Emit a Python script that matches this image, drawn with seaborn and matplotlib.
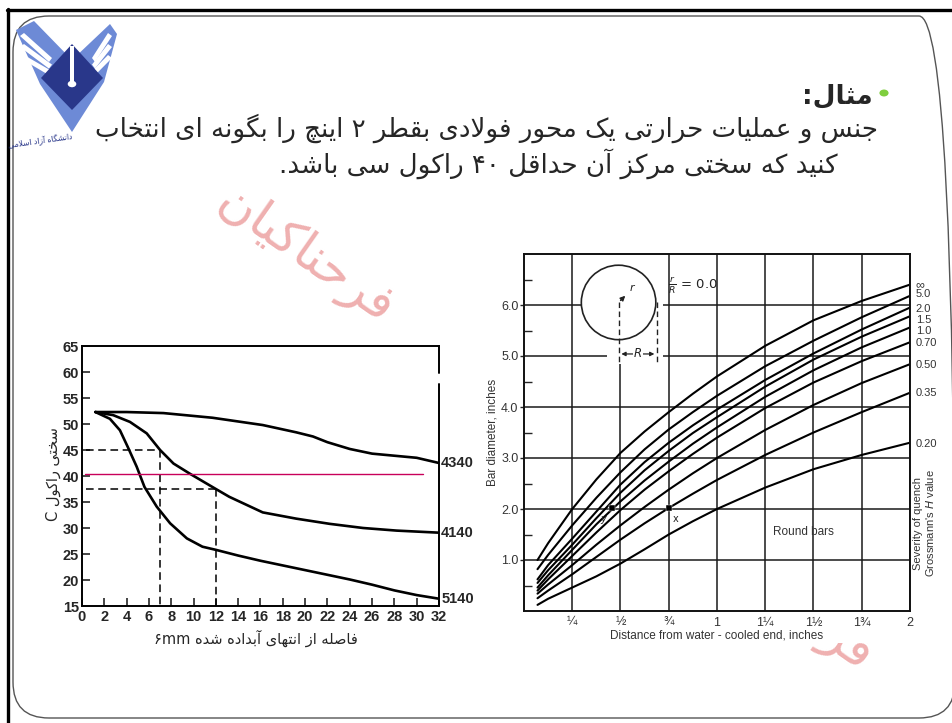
import re
import numpy as np
import pandas as pd
import matplotlib
matplotlib.use("Agg")
import matplotlib.pyplot as plt
import seaborn as sns
from matplotlib.patches import FancyBboxPatch, Ellipse, Rectangle, Polygon, Circle
from matplotlib.lines import Line2D
from matplotlib.transforms import IdentityTransform

# ---------------- slide text (Persian) ----------------
title_text = "مثال:"
body_line1 = "جنس و عملیات حرارتی یک محور فولادی بقطر ۲ اینچ را بگونه ای انتخاب"
body_line2 = "کنید که سختی مرکز آن حداقل ۴۰ راکول سی باشد."
watermark_text = "فرحناکیان"
logo_caption = "دانشگاه آزاد اسلامی"
jominy_ylabel = "سختی راکول C"
jominy_xlabel = "فاصله از انتهای آبداده شده"
jominy_xunit = "۶mm"

# ---------------- Jominy end-quench curves ----------------
steel_4340_x = [1.2, 4, 7.3, 11.7, 16.2, 19.2, 20.7, 22, 24, 26, 28, 30, 32]
steel_4340_y = [52.3, 52.3, 52.1, 51.2, 49.8, 48.4, 47.6, 46.5, 45.2, 44.3, 43.9, 43.5, 42.5]
steel_4140_x = [1.2, 2.8, 4.3, 5.8, 7, 8.2, 9.7, 12, 13.2, 16.2, 19.2, 22.2, 25.2, 28.2, 32]
steel_4140_y = [52.3, 51.7, 50.4, 48.2, 45, 42.4, 40.4, 37.5, 36.0, 33.0, 31.8, 30.8, 30.0, 29.5, 29.1]
steel_5140_x = [1.2, 2.5, 3.4, 4.1, 4.9, 5.6, 6.7, 7.9, 9.4, 10.8, 12, 14, 16, 18, 20, 22, 24, 26, 28, 30, 32]
steel_5140_y = [52.3, 51.0, 48.8, 45.6, 41.8, 37.9, 34.1, 30.9, 28.0, 26.4, 25.8, 24.7, 23.7, 22.8, 21.9,
                21.0, 20.1, 19.1, 18.0, 17.1, 16.4]
steel_names = ["4340", "4140", "5140"]
readout_dist = [7, 12]
readout_hrc = [45, 37.5]        # hardness at those distances
required_hrc = 40.4             # required centre hardness line

# ---------------- Grossmann chart: bar diameter vs Jominy distance ----------------
dist_in = [0.07, 0.125, 0.25, 0.375, 0.5, 0.625, 0.75, 0.875, 1.0, 1.25, 1.5, 1.75, 2.0]
h_labels = ["∞", "5.0", "2.0", "1.5", "1.0", "0.70", "0.50", "0.35", "0.20"]
h_label_y = [6.39, 6.21, 5.93, 5.7, 5.49, 5.25, 4.82, 4.27, 3.27]
dia_inf = [1.0, 1.33, 2.0, 2.58, 3.1, 3.52, 3.9, 4.26, 4.6, 5.2, 5.7, 6.08, 6.4]
dia_5_0 = [0.82, 1.1, 1.68, 2.22, 2.72, 3.17, 3.56, 3.9, 4.22, 4.8, 5.3, 5.76, 6.18]
dia_2_0 = [0.62, 0.9, 1.42, 1.95, 2.48, 2.92, 3.3, 3.64, 3.95, 4.53, 5.05, 5.52, 5.95]
dia_1_5 = [0.55, 0.8, 1.3, 1.82, 2.32, 2.76, 3.14, 3.49, 3.8, 4.4, 4.93, 5.38, 5.78]
dia_1_0 = [0.46, 0.7, 1.2, 1.7, 2.15, 2.56, 2.93, 3.28, 3.6, 4.2, 4.72, 5.17, 5.56]
dia_0_70 = [0.4, 0.62, 1.08, 1.54, 1.98, 2.38, 2.74, 3.08, 3.4, 3.98, 4.48, 4.9, 5.27]
dia_0_50 = [0.34, 0.52, 0.9, 1.3, 1.68, 2.04, 2.38, 2.7, 3.0, 3.55, 4.04, 4.47, 4.84]
dia_0_35 = [0.25, 0.4, 0.72, 1.06, 1.4, 1.72, 2.02, 2.3, 2.57, 3.06, 3.5, 3.9, 4.28]
dia_0_20 = [0.12, 0.24, 0.46, 0.68, 0.93, 1.21, 1.5, 1.76, 2.0, 2.42, 2.78, 3.06, 3.3]
example_x = [0.455, 0.75]
example_y = [2.02, 2.02]
example_names = ["y", "x"]
quarter_ticks = [0.25, 0.5, 0.75, 1.0, 1.25, 1.5, 1.75, 2.0]
quarter_labels = ["¼", "½", "¾", "1", "1¼", "1½", "1¾", "2"]

# ---------------- simple Arabic-script shaping for matplotlib ----------------
_FORMS = {
    "\u0627": ("\uFE8D", "\uFE8E", None, None),
    "\u0622": ("\uFE81", "\uFE82", None, None),
    "\u0628": ("\uFE8F", "\uFE90", "\uFE91", "\uFE92"),
    "\u067E": ("\uFB56", "\uFB57", "\uFB58", "\uFB59"),
    "\u062A": ("\uFE95", "\uFE96", "\uFE97", "\uFE98"),
    "\u062B": ("\uFE99", "\uFE9A", "\uFE9B", "\uFE9C"),
    "\u062C": ("\uFE9D", "\uFE9E", "\uFE9F", "\uFEA0"),
    "\u0686": ("\uFB7A", "\uFB7B", "\uFB7C", "\uFB7D"),
    "\u062D": ("\uFEA1", "\uFEA2", "\uFEA3", "\uFEA4"),
    "\u062E": ("\uFEA5", "\uFEA6", "\uFEA7", "\uFEA8"),
    "\u062F": ("\uFEA9", "\uFEAA", None, None),
    "\u0630": ("\uFEAB", "\uFEAC", None, None),
    "\u0631": ("\uFEAD", "\uFEAE", None, None),
    "\u0632": ("\uFEAF", "\uFEB0", None, None),
    "\u0698": ("\uFB8A", "\uFB8B", None, None),
    "\u0633": ("\uFEB1", "\uFEB2", "\uFEB3", "\uFEB4"),
    "\u0634": ("\uFEB5", "\uFEB6", "\uFEB7", "\uFEB8"),
    "\u0635": ("\uFEB9", "\uFEBA", "\uFEBB", "\uFEBC"),
    "\u0636": ("\uFEBD", "\uFEBE", "\uFEBF", "\uFEC0"),
    "\u0637": ("\uFEC1", "\uFEC2", "\uFEC3", "\uFEC4"),
    "\u0638": ("\uFEC5", "\uFEC6", "\uFEC7", "\uFEC8"),
    "\u0639": ("\uFEC9", "\uFECA", "\uFECB", "\uFECC"),
    "\u063A": ("\uFECD", "\uFECE", "\uFECF", "\uFED0"),
    "\u0641": ("\uFED1", "\uFED2", "\uFED3", "\uFED4"),
    "\u0642": ("\uFED5", "\uFED6", "\uFED7", "\uFED8"),
    "\u06A9": ("\uFB8E", "\uFB8F", "\uFB90", "\uFB91"),
    "\u06AF": ("\uFB92", "\uFB93", "\uFB94", "\uFB95"),
    "\u0644": ("\uFEDD", "\uFEDE", "\uFEDF", "\uFEE0"),
    "\u0645": ("\uFEE1", "\uFEE2", "\uFEE3", "\uFEE4"),
    "\u0646": ("\uFEE5", "\uFEE6", "\uFEE7", "\uFEE8"),
    "\u0647": ("\uFEE9", "\uFEEA", "\uFEEB", "\uFEEC"),
    "\u0648": ("\uFEED", "\uFEEE", None, None),
    "\u06CC": ("\uFBFC", "\uFBFD", "\uFBFE", "\uFBFF"),
}
_LAMALEF = {"\u0627": ("\uFEFB", "\uFEFC"), "\u0622": ("\uFEF5", "\uFEF6")}


def _shape(s):
    s = s.replace("\u0643", "\u06A9").replace("\u064A", "\u06CC")
    out, i = [], 0
    while i < len(s):
        c = s[i]
        if c not in _FORMS:
            out.append(c)
            i += 1
            continue
        prev = s[i - 1] if i > 0 else ""
        link_prev = prev in _FORMS and _FORMS[prev][2] is not None
        if c == "\u0644" and i + 1 < len(s) and s[i + 1] in _LAMALEF:
            iso, fin = _LAMALEF[s[i + 1]]
            out.append(fin if link_prev else iso)
            i += 2
            continue
        nxt = s[i + 1] if i + 1 < len(s) else ""
        link_next = _FORMS[c][2] is not None and nxt in _FORMS
        iso, fin, ini, med = _FORMS[c]
        if link_prev and link_next:
            out.append(med)
        elif link_prev:
            out.append(fin)
        elif link_next:
            out.append(ini)
        else:
            out.append(iso)
        i += 1
    return "".join(out)


def rtl(s):
    vis = _shape(s)[::-1]
    return re.sub(r"[0-9A-Za-z\u06F0-\u06F9]+", lambda m: m.group(0)[::-1], vis)


# ---------------- figure ----------------
sns.set_theme(style="ticks")
plt.rcParams["font.family"] = ["DejaVu Sans"]
W, H = 953, 723
fig = plt.figure(figsize=(W / 100, H / 100), dpi=100)
fig.patch.set_facecolor("white")


def fx(px):
    return px / W


def fy(py):
    return 1 - py / H


NARROW = ["Liberation Sans Narrow", "Liberation Sans"]

# slide frame
fig.add_artist(Line2D([fx(8), fx(8)], [fy(9), 0], color="black", lw=2.4))
fig.add_artist(Line2D([fx(7), 1], [fy(10), fy(10)], color="black", lw=2.4))
frame = FancyBboxPatch((13, H - 718), 942, 702, boxstyle="round,pad=0,rounding_size=36",
                       transform=IdentityTransform(), facecolor="none", edgecolor="#555555",
                       lw=1.0, zorder=0.5)
fig.add_artist(frame)


def poly(pts, **kw):
    p = Polygon([(fx(a), fy(b)) for a, b in pts], closed=True, transform=fig.transFigure, **kw)
    fig.add_artist(p)


# university emblem
light_blue, navy = "#6d8ad6", "#29378a"
poly([(16, 30), (34, 21), (72, 60), (110, 24), (117, 34), (104, 82), (72, 132), (40, 84)],
     facecolor=light_blue, edgecolor="none")
for k in range(3):
    d = 11 * k
    poly([(20, 36 + d), (24, 33 + d), (52, 58 + d * 0.6), (49, 62 + d * 0.6)], facecolor="white", edgecolor="none")
    poly([(112, 36 + d), (108, 33 + d), (92, 58 + d * 0.6), (95, 62 + d * 0.6)], facecolor="white", edgecolor="none")
poly([(72, 44), (103, 78), (72, 110), (41, 78)], facecolor=navy, edgecolor="none")
poly([(70.5, 46), (73.5, 46), (73.5, 82), (70.5, 82)], facecolor="white", edgecolor="none")
fig.add_artist(Circle((fx(72), fy(84)), 0.0045, transform=fig.transFigure, facecolor="white", edgecolor="none"))
fig.text(fx(40), fy(141), rtl(logo_caption), fontsize=5.5, color=navy, ha="center", va="center", rotation=8)

# heading and problem statement
fig.add_artist(Circle((fx(884), fy(93)), 0.0048, transform=fig.transFigure, facecolor="#7fce3e",
                      edgecolor="none"))
fig.text(fx(873), fy(96), rtl(title_text), fontsize=19, fontweight="bold", ha="right", va="center")
fig.text(fx(878), fy(128), rtl(body_line1), fontsize=18.8, ha="right", va="center")
fig.text(fx(838), fy(164), rtl(body_line2), fontsize=18.8, ha="right", va="center")

# watermarks
fig.text(fx(305), fy(256), rtl(watermark_text), fontsize=36, color="#efb0b0", rotation=-35,
         ha="center", va="center", rotation_mode="anchor", zorder=-1)
fig.text(fx(784), fy(604), rtl(watermark_text), fontsize=36, color="#efb0b0", rotation=-35,
         ha="center", va="center", rotation_mode="anchor", zorder=-1)
fig.add_artist(Rectangle((fx(470), fy(643)), fx(945) - fx(470), fy(236) - fy(643),
                         transform=fig.transFigure, facecolor="white", edgecolor="none", zorder=-0.5))

# ---------------- left: Jominy curves ----------------
axL = fig.add_axes([fx(82), fy(606), fx(439) - fx(82), fy(346) - fy(606)])
for xs, ys in [(steel_4340_x, steel_4340_y), (steel_4140_x, steel_4140_y), (steel_5140_x, steel_5140_y)]:
    sns.lineplot(x=xs, y=ys, ax=axL, color="black", lw=1.9, sort=False, estimator=None)
for d, h in zip(readout_dist, readout_hrc):
    axL.plot([0.4, d], [h, h], color="black", lw=1.1, ls=(0, (5, 3)))
    axL.plot([d, d], [h, 15], color="black", lw=1.1, ls=(0, (5, 3)))
axL.plot([0.3, 30.6], [required_hrc, required_hrc], color="#c8005a", lw=1.0)
axL.set_xlim(0, 32)
axL.set_ylim(15, 65)
axL.set_xticks(range(0, 33, 2))
axL.set_yticks(range(15, 66, 5))
axL.tick_params(axis="x", direction="in", length=6, width=1.2, pad=3, labelsize=10.5)
axL.tick_params(axis="y", direction="in", length=6, width=1.2, pad=2, labelsize=10.5)
for lab in axL.get_xticklabels() + axL.get_yticklabels():
    lab.set_family(NARROW)
    lab.set_fontweight("bold")
for s in ["left", "bottom", "top"]:
    axL.spines[s].set_linewidth(1.4)
    axL.spines[s].set_color("black")
axL.spines["right"].set_visible(False)
axL.plot([32, 32], [15, 57.6], color="black", lw=1.4, clip_on=False)
axL.plot([32, 32], [59.8, 65], color="black", lw=1.4, clip_on=False)
for name, ys in zip(steel_names, [steel_4340_y, steel_4140_y, steel_5140_y]):
    axL.text(32.2, ys[-1], name, ha="left", va="center", fontsize=10.5, fontweight="bold",
             family=NARROW, clip_on=False)
axL.set_xlabel("")
axL.set_ylabel("")
fig.text(fx(53), fy(474), rtl(jominy_ylabel), rotation=90, ha="center", va="center", fontsize=10.5)
fig.text(fx(256), fy(638), jominy_xunit + " " + rtl(jominy_xlabel), ha="center", va="center", fontsize=10.5)

# ---------------- right: bar diameter vs distance ----------------
axR = fig.add_axes([fx(524), fy(611), fx(910) - fx(524), fy(254) - fy(611)])
axR.set_facecolor("white")
axR.set_xlim(0, 2)
axR.set_ylim(0, 7)
axR.set_axisbelow(True)
axR.set_xticks(quarter_ticks)
axR.set_xticklabels(quarter_labels)
axR.set_yticks([1, 2, 3, 4, 5, 6])
axR.set_yticklabels(["1.0", "2.0", "3.0", "4.0", "5.0", "6.0"])
axR.set_yticks(np.arange(0.5, 7, 1.0), minor=True)
axR.grid(True, which="major", color="#1a1a1a", lw=1.1)
axR.tick_params(axis="x", length=0, pad=4, labelsize=9, labelcolor="#333333")
axR.tick_params(axis="y", which="major", direction="out", length=3, width=1.0, pad=1, labelsize=9,
                labelcolor="#333333")
axR.tick_params(axis="y", which="minor", direction="in", length=6, width=1.0)
for lab in axR.get_xticklabels() + axR.get_yticklabels():
    lab.set_family(NARROW)
for s in axR.spines.values():
    s.set_linewidth(1.4)
    s.set_color("#111111")

curves = [dia_inf, dia_5_0, dia_2_0, dia_1_5, dia_1_0, dia_0_70, dia_0_50, dia_0_35, dia_0_20]
for lab, ys, ly in zip(h_labels, curves, h_label_y):
    sns.lineplot(x=dist_in, y=ys, ax=axR, color="black", lw=1.5, sort=False, estimator=None)
    axR.text(2.03, ly, lab, ha="left", va="center", fontsize=8 if lab != "∞" else 9,
             color="#333333", family=NARROW, clip_on=False)

# inset sketch of the bar cross-section
axR.add_patch(Rectangle((0.43, 4.84), 0.29, 2.16, facecolor="white", edgecolor="none", zorder=1))
axR.add_patch(Ellipse((0.49, 6.05), 0.386, 1.46, facecolor="white", edgecolor="#222222", lw=1.2, zorder=2))
axR.plot([0.49, 0.49], [6.05, 4.85], color="#222222", lw=1.0, ls=(0, (4, 2.5)), zorder=3)
axR.plot([0.69, 0.69], [6.05, 4.85], color="#222222", lw=1.0, ls=(0, (4, 2.5)), zorder=3)
axR.annotate("", xy=(0.535, 6.22), xytext=(0.49, 6.05),
             arrowprops=dict(arrowstyle="-|>", lw=1.0, color="#222222", mutation_scale=7), zorder=3)
axR.text(0.545, 6.27, "r", fontsize=8, style="italic", color="#222222", zorder=3)
axR.annotate("", xy=(0.49, 5.04), xytext=(0.69, 5.04),
             arrowprops=dict(arrowstyle="<|-|>", lw=0.9, color="#222222", mutation_scale=6), zorder=3)
axR.text(0.59, 5.04, "R", fontsize=8.5, style="italic", color="#222222", ha="center", va="center",
         zorder=4, bbox=dict(facecolor="white", edgecolor="none", pad=0.5))
axR.text(0.745, 6.37, r"$\frac{r}{R}$ = 0.0", fontsize=9.5, color="#222222", va="center", zorder=3)

sns.scatterplot(x=example_x, y=example_y, ax=axR, marker="s", s=14, color="black", zorder=5)
axR.text(example_x[0] - 0.03, example_y[0] - 0.12, example_names[0], fontsize=7, style="italic",
         ha="right", va="top", color="#222222")
axR.text(example_x[1] + 0.02, example_y[1] - 0.12, example_names[1], fontsize=7,
         ha="left", va="top", color="#222222")
axR.text(1.29, 1.54, "Round bars", fontsize=8.5, color="#333333", family=NARROW, va="center")
axR.set_xlabel("Distance from water - cooled end, inches", fontsize=8.5, color="#333333",
               family=NARROW, labelpad=1)
axR.set_ylabel("Bar diameter, inches", fontsize=8.5, color="#333333", family=NARROW, labelpad=2)
fig.text(fx(925), fy(523), "Severity of quench\nGrossmann's $H$ value", rotation=90, ha="center",
         va="center", fontsize=8, color="#333333", family=NARROW, linespacing=1.1)

fig.savefig("out.png", dpi=100)
